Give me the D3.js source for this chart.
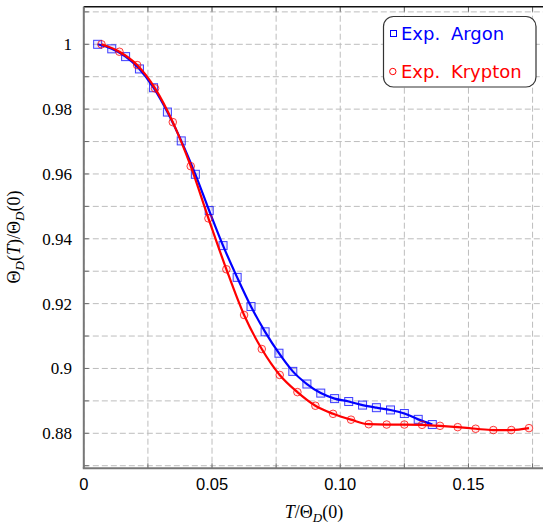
<!DOCTYPE html>
<html>
<head>
  <meta charset="UTF-8">
  <style>
    body { margin: 0; background-color: #fff; }
    svg { display: block; }
  </style>
</head>
<body>
<svg></svg>
<script src="https://d3js.org/d3.v7.min.js"></script>
<script>
// T/Theta_D(0) and Theta_D(T)/Theta_D(0)
let argonX = [0.0054, 0.0109, 0.0163, 0.0217, 0.0272, 0.0326, 0.0380, 0.0435, 0.0489, 0.0543,
              0.0598, 0.0652, 0.0707, 0.0761, 0.0815, 0.0870, 0.0924, 0.0978, 0.1033, 0.1087,
              0.1141, 0.1196, 0.1250, 0.1304, 0.1359];
let argonY = [1.0000, 0.9986, 0.9962, 0.9924, 0.9866, 0.9791, 0.9702, 0.9599, 0.9487, 0.9379,
              0.9281, 0.9191, 0.9113, 0.9047, 0.8991, 0.8952, 0.8924, 0.8907, 0.8898, 0.8887,
              0.8879, 0.8872, 0.8861, 0.8843, 0.8827];
let kryptonX = [0.0069, 0.0139, 0.0208, 0.0278, 0.0347, 0.0417, 0.0486, 0.0556, 0.0625, 0.0694,
                0.0764, 0.0833, 0.0903, 0.0972, 0.1042, 0.1111, 0.1181, 0.1250, 0.1319, 0.1389,
                0.1458, 0.1528, 0.1597, 0.1667, 0.1736];
let kryptonY = [1.0000, 0.9977, 0.9936, 0.9864, 0.9760, 0.9624, 0.9463, 0.9306, 0.9165, 0.9060,
                0.8980, 0.8927, 0.8885, 0.8860, 0.8842, 0.8828, 0.8827, 0.8827, 0.8826, 0.8823,
                0.8819, 0.8814, 0.8810, 0.8810, 0.8816];

let xTicks = [0, 0.05, 0.10, 0.15];
let xTickLabels = ["0", "0.05", "0.10", "0.15"];
let yTicks = [0.88, 0.90, 0.92, 0.94, 0.96, 0.98, 1.00];
let yTickLabels = ["0.88", "0.9", "0.92", "0.94", "0.96", "0.98", "1"];
let xGrid = [0, 0.025, 0.05, 0.075, 0.10, 0.125, 0.15, 0.175];
let yGrid = [0.87, 0.88, 0.89, 0.90, 0.91, 0.92, 0.93, 0.94, 0.95, 0.96, 0.97, 0.98, 0.99, 1.00, 1.01];

let seriesNames = ["Exp. Argon", "Exp. Krypton"];
let seriesColors = ["#0000ff", "#ff0000"];

let width = 543, height = 524;
let mLeft = 83.8, mRight = 545.4, mTop = 6.7, mBottom = 468.3;

let svg = d3.select("svg")
    .attr("width", width)
    .attr("height", height);

let x = d3.scaleLinear().domain([0, 0.18]).range([mLeft, mRight]);
let y = d3.scaleLinear().domain([0.8692, 1.0116]).range([mBottom, mTop]);

// grid
let grid = svg.append("g")
    .attr("stroke", "#bdbdbd")
    .attr("stroke-width", 1)
    .attr("stroke-dasharray", "6,3");

grid.selectAll(".vg")
  .data(xGrid)
  .enter()
  .append("line")
  .attr("x1", d => x(d)).attr("x2", d => x(d))
  .attr("y1", mTop).attr("y2", mBottom);

grid.selectAll(".hg")
  .data(yGrid)
  .enter()
  .append("line")
  .attr("x1", mLeft).attr("x2", width)
  .attr("y1", d => y(d)).attr("y2", d => y(d));

// ticks (inward)
let ticks = svg.append("g").attr("stroke", "#6a6a6a").attr("stroke-width", 1);
yGrid.forEach(v => {
  ticks.append("line").attr("x1", mLeft).attr("x2", mLeft + 5).attr("y1", y(v)).attr("y2", y(v));
});
xGrid.forEach(v => {
  ticks.append("line").attr("x1", x(v)).attr("x2", x(v)).attr("y1", mBottom).attr("y2", mBottom - 5);
  ticks.append("line").attr("x1", x(v)).attr("x2", x(v)).attr("y1", mTop).attr("y2", mTop + 5);
});

// frame
svg.append("line")
  .attr("x1", mLeft).attr("x2", width).attr("y1", mTop).attr("y2", mTop)
  .attr("stroke", "#111").attr("stroke-width", 1.5);
svg.append("line")
  .attr("x1", mLeft).attr("x2", mLeft).attr("y1", mTop).attr("y2", mBottom)
  .attr("stroke", "#777").attr("stroke-width", 2);
svg.append("line")
  .attr("x1", mLeft - 1).attr("x2", width).attr("y1", mBottom).attr("y2", mBottom)
  .attr("stroke", "#777").attr("stroke-width", 2);

// tick labels
svg.append("g")
  .selectAll("text")
  .data(yTicks)
  .enter()
  .append("text")
  .attr("x", 72)
  .attr("y", d => y(d))
  .attr("dy", "0.35em")
  .attr("text-anchor", "end")
  .style("font-family", "'Liberation Serif', serif")
  .style("font-size", "17px")
  .text((d, i) => yTickLabels[i]);

svg.append("g")
  .selectAll("text")
  .data(xTicks)
  .enter()
  .append("text")
  .attr("x", d => x(d))
  .attr("y", 490)
  .attr("text-anchor", "middle")
  .style("font-family", "'Liberation Sans', sans-serif")
  .style("font-size", "16.5px")
  .text((d, i) => xTickLabels[i]);

// axis labels
let xl = svg.append("text")
  .attr("x", 314)
  .attr("y", 518)
  .attr("text-anchor", "middle")
  .style("font-family", "'Liberation Serif', serif")
  .style("font-size", "18px");
xl.append("tspan").style("font-style", "italic").text("T");
xl.append("tspan").text("/Θ");
xl.append("tspan").style("font-style", "italic").style("font-size", "13px").attr("dy", 4).text("D");
xl.append("tspan").attr("dy", -4).text("(0)");

let yl = svg.append("text")
  .attr("transform", "translate(20,237) rotate(-90)")
  .attr("text-anchor", "middle")
  .style("font-family", "'Liberation Serif', serif")
  .style("font-size", "18px");
yl.append("tspan").text("Θ");
yl.append("tspan").style("font-style", "italic").style("font-size", "13px").attr("dy", 4).text("D");
yl.append("tspan").attr("dy", -4).text("(");
yl.append("tspan").style("font-style", "italic").text("T");
yl.append("tspan").text(")/Θ");
yl.append("tspan").style("font-style", "italic").style("font-size", "13px").attr("dy", 4).text("D");
yl.append("tspan").attr("dy", -4).text("(0)");

// series
let line = d3.line()
  .x(d => x(d[0]))
  .y(d => y(d[1]))
  .curve(d3.curveMonotoneX);

let plot = svg.append("g");

let argon = argonX.map((v, i) => [v, argonY[i]]);
let krypton = kryptonX.map((v, i) => [v, kryptonY[i]]);

plot.append("path")
  .datum(argon)
  .attr("d", line)
  .attr("fill", "none")
  .attr("stroke", seriesColors[0])
  .attr("stroke-width", 2.2);

plot.selectAll(".sq")
  .data(argon)
  .enter()
  .append("rect")
  .attr("x", d => x(d[0]) - 4)
  .attr("y", d => y(d[1]) - 4)
  .attr("width", 8)
  .attr("height", 8)
  .attr("fill", seriesColors[0])
  .attr("fill-opacity", 0.08)
  .attr("stroke", seriesColors[0])
  .attr("stroke-opacity", 0.75)
  .attr("stroke-width", 1);

plot.append("path")
  .datum(krypton)
  .attr("d", line)
  .attr("fill", "none")
  .attr("stroke", seriesColors[1])
  .attr("stroke-width", 2.2);

plot.selectAll(".ci")
  .data(krypton)
  .enter()
  .append("circle")
  .attr("cx", d => x(d[0]))
  .attr("cy", d => y(d[1]))
  .attr("r", 3.8)
  .attr("fill", seriesColors[1])
  .attr("fill-opacity", 0.08)
  .attr("stroke", seriesColors[1])
  .attr("stroke-opacity", 0.75)
  .attr("stroke-width", 1);

// legend
let legend = svg.append("g");
legend.append("rect")
  .attr("x", 383.5).attr("y", 16.5)
  .attr("width", 152.5).attr("height", 70.5)
  .attr("rx", 10).attr("ry", 10)
  .attr("fill", "white")
  .attr("stroke", "#333")
  .attr("stroke-width", 1.2);

legend.append("rect")
  .attr("x", 390.5).attr("y", 30.5).attr("width", 6).attr("height", 6)
  .attr("fill", "none").attr("stroke", seriesColors[0]).attr("stroke-width", 1);
legend.append("circle")
  .attr("cx", 392.8).attr("cy", 71.5).attr("r", 3.2)
  .attr("fill", "none").attr("stroke", seriesColors[1]).attr("stroke-width", 1);

legend.selectAll("text")
  .data(seriesNames)
  .enter()
  .append("text")
  .attr("x", 401)
  .attr("y", (d, i) => 40 + i * 38)
  .attr("fill", (d, i) => seriesColors[i])
  .style("font-family", "'DejaVu Sans', sans-serif")
  .style("font-size", "18px")
  .style("word-spacing", "5px")
  .text(d => d);
</script>
</body>
</html>
